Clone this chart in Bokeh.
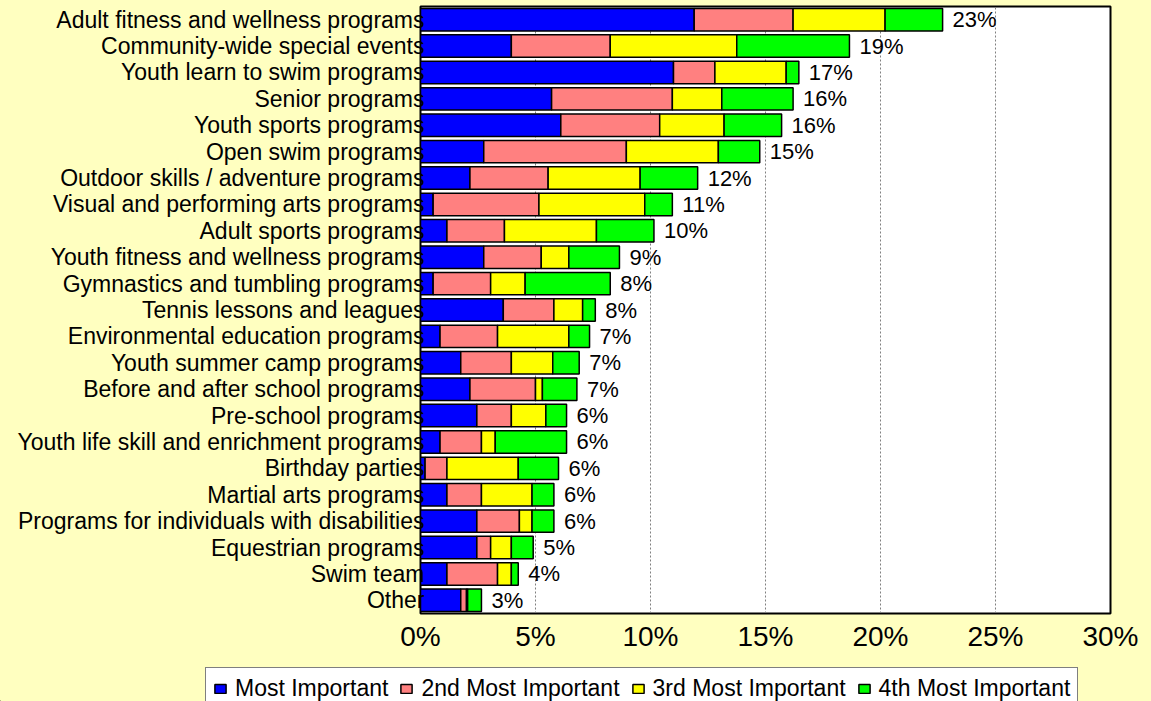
from bokeh.plotting import figure
from bokeh.layouts import column
from bokeh.models import (FactorRange, Range1d, FixedTicker, Legend, LegendItem,
                          ColumnDataSource, GlobalInlineStyleSheet)
from bokeh.core.properties import value
from bokeh.embed import file_html
from bokeh.resources import INLINE

categories = [
    "Adult fitness and wellness programs",
    "Community-wide special events",
    "Youth learn to swim programs",
    "Senior programs",
    "Youth sports programs",
    "Open swim programs",
    "Outdoor skills / adventure programs",
    "Visual and performing arts programs",
    "Adult sports programs",
    "Youth fitness and wellness programs",
    "Gymnastics and tumbling programs",
    "Tennis lessons and leagues",
    "Environmental education programs",
    "Youth summer camp programs",
    "Before and after school programs",
    "Pre-school programs",
    "Youth life skill and enrichment programs",
    "Birthday parties",
    "Martial arts programs",
    "Programs for individuals with disabilities",
    "Equestrian programs",
    "Swim team",
    "Other",
]

most_important = [11.9, 3.95, 11.0, 5.7, 6.1, 2.75, 2.15, 0.55, 1.15, 2.75, 0.55, 3.6,
                  0.85, 1.75, 2.15, 2.45, 0.85, 0.2, 1.15, 2.45, 2.45, 1.15, 1.75]
second_important = [4.3, 4.3, 1.8, 5.25, 4.3, 6.2, 3.4, 4.6, 2.5, 2.5, 2.5, 2.2,
                    2.5, 2.2, 2.85, 1.5, 1.8, 0.95, 1.5, 1.85, 0.6, 2.2, 0.25]
third_important = [4.0, 5.5, 3.1, 2.15, 2.8, 4.0, 4.0, 4.6, 4.0, 1.2, 1.5, 1.25,
                   3.1, 1.8, 0.3, 1.5, 0.6, 3.1, 2.2, 0.55, 0.9, 0.6, 0.05]
fourth_important = [2.5, 4.9, 0.55, 3.1, 2.5, 1.8, 2.5, 1.2, 2.5, 2.2, 3.7, 0.55,
                    0.9, 1.15, 1.5, 0.9, 3.1, 1.75, 0.95, 0.95, 0.95, 0.3, 0.6]
total_labels = ["23%", "19%", "17%", "16%", "16%", "15%", "12%", "11%", "10%", "9%",
                "8%", "8%", "7%", "7%", "7%", "6%", "6%", "6%", "6%", "6%", "5%", "4%", "3%"]

series_names = ["Most Important", "2nd Most Important", "3rd Most Important", "4th Most Important"]
series_colors = ["#0000FF", "#FF8080", "#FFFF00", "#00FF00"]

x_ticks = [0, 5, 10, 15, 20, 25, 30]
x_tick_labels = ["0%", "5%", "10%", "15%", "20%", "25%", "30%"]

BG = "#FFFFC0"
FONT = "Liberation Sans"

totals = [a + b + c + d for a, b, c, d in zip(most_important, second_important,
                                                 third_important, fourth_important)]
keys = ["s1", "s2", "s3", "s4"]
src = ColumnDataSource(dict(
    cat=categories,
    s1=most_important, s2=second_important, s3=third_important, s4=fourth_important,
    total=totals, label=total_labels,
))

p = figure(
    width=1151, height=665,
    y_range=FactorRange(factors=categories[::-1], range_padding=0),
    x_range=Range1d(0, 30),
    output_backend="svg", toolbar_location=None,
    min_border_left=420, min_border_right=41, min_border_top=6, min_border_bottom=52,
    background_fill_color="white", border_fill_color=BG,
)
p.frame_align = False

p.hbar_stack(keys, y="cat", height=0.85, color=series_colors, source=src,
             line_color="black", line_width=1.5)

p.text(x="total", y="cat", text="label", source=src, x_offset=10,
       text_align="left", text_baseline="middle",
       text_font=value(FONT), text_font_size="22px", text_color="black")

# axes
p.xaxis.ticker = FixedTicker(ticks=x_ticks)
p.xaxis.major_label_overrides = {t: l for t, l in zip(x_ticks, x_tick_labels)}
p.xaxis.major_label_text_font = FONT
p.xaxis.major_label_text_font_size = "28px"
p.xaxis.major_label_text_color = "black"
p.xaxis.major_tick_line_color = None
p.xaxis.minor_tick_line_color = None
p.xaxis.major_tick_out = 0
p.xaxis.major_label_standoff = 7
p.xaxis.axis_line_color = "black"

p.yaxis.major_label_text_font = FONT
p.yaxis.major_label_text_font_size = "23px"
p.yaxis.major_label_text_color = "black"
p.yaxis.major_tick_line_color = None
p.yaxis.major_tick_out = 0
p.yaxis.major_label_standoff = -4
p.yaxis.axis_line_color = "black"

p.xgrid.ticker = FixedTicker(ticks=x_ticks)
p.xgrid.grid_line_color = "#808080"
p.xgrid.grid_line_dash = "2 2"
p.xgrid.grid_line_width = 1
p.ygrid.grid_line_color = None

p.outline_line_color = "black"
p.outline_line_width = 2

# legend strip below the chart (proxy glyphs sit outside its visible range)
p2 = figure(
    width=1151, height=36, x_range=Range1d(0, 1), y_range=Range1d(0, 1),
    output_backend="svg", toolbar_location=None,
    x_axis_location=None, y_axis_location=None,
    min_border_left=0, min_border_right=0, min_border_top=0, min_border_bottom=0,
    background_fill_color=BG, border_fill_color=BG, outline_line_color=None,
)
p2.frame_align = False
p2.xgrid.visible = False
p2.ygrid.visible = False
proxy_src = ColumnDataSource(dict(y=[-50.0], left=[-60.0], right=[-55.0]))
proxies = []
for c in series_colors:
    proxies.append(p2.hbar(y="y", left="left", right="right", height=0.5, source=proxy_src,
                           fill_color=c, line_color="black", line_width=1.5))

legend = Legend(
    items=[LegendItem(label=n, renderers=[r]) for n, r in zip(series_names, proxies)],
    orientation="horizontal", location=(205, -9), margin=0,
    padding=7, spacing=11, label_standoff=8, glyph_width=14, glyph_height=11,
    label_text_font=FONT, label_text_font_size="23px", label_text_color="black",
    border_line_color="black", border_line_width=1.5,
    background_fill_color="white", background_fill_alpha=1.0,
)
p2.add_layout(legend)

layout = column(p, p2, spacing=0)
layout.stylesheets = [GlobalInlineStyleSheet(css="body { background-color: #FFFFC0; }")]

open("out.html", "w").write(file_html(layout, INLINE))
